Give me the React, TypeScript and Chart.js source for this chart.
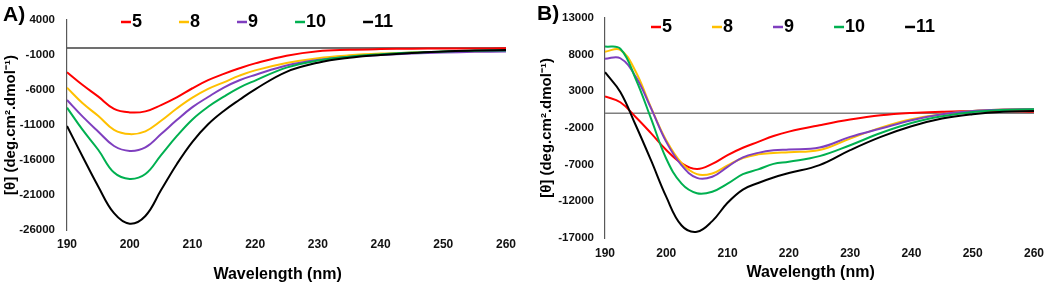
import React, { useEffect, useRef } from "react";
import { Chart, registerables } from "chart.js";

Chart.register(...registerables);

const FONT = "'Liberation Sans', Arial, Helvetica, sans-serif";

// Series
const seriesLabels = ["5", "8", "9", "10", "11"];
const seriesColors = ["#FF0000", "#FFC000", "#7F3FBF", "#00B050", "#000000"];

// Panel A data
const wavelengthA = [190, 192.5, 195, 197.5, 200, 202.5, 205, 207.5, 210, 212.5, 215, 217.5, 220, 225, 230, 235, 240, 245, 250, 255, 260];
const a5 = [-3450, -5290, -6950, -8700, -9200, -9050, -8150, -7050, -5750, -4600, -3700, -2900, -2200, -1100, -450, -250, -150, -100, -80, -60, -50];
const a8 = [-5670, -7900, -9710, -11700, -12300, -11900, -10400, -8650, -7100, -5850, -4900, -3950, -3200, -2150, -1450, -1050, -800, -650, -550, -450, -400];
const a9 = [-7430, -9810, -11950, -14000, -14700, -14200, -12300, -10300, -8450, -7000, -5650, -4600, -3850, -2500, -1700, -1250, -1000, -800, -650, -550, -500];
const a10 = [-8520, -11710, -14570, -17800, -18700, -18000, -15300, -12600, -10200, -8400, -6950, -5650, -4650, -2800, -1800, -1250, -900, -650, -500, -400, -350];
const a11 = [-11140, -15530, -19810, -23600, -25100, -24000, -20300, -16600, -13400, -10900, -9000, -7400, -5900, -3400, -2100, -1400, -1000, -700, -500, -350, -300];

// Panel B data
const wavelengthB = [190, 192.5, 195, 197.5, 200, 202.5, 205, 207.5, 210, 212.5, 215, 217.5, 220, 225, 230, 235, 240, 245, 250, 255, 260];
const b5 = [2300, 1500, -500, -2700, -5000, -6800, -7600, -6900, -5700, -4700, -3900, -3100, -2500, -1630, -860, -280, 40, 200, 300, 300, 200];
const b8 = [8400, 8650, 5700, 800, -3700, -6800, -8300, -8200, -7100, -6100, -5600, -5400, -5300, -5000, -3450, -1950, -800, -130, 320, 500, 550];
const b9 = [7430, 7500, 5000, 700, -3900, -7100, -8800, -8650, -7300, -6000, -5400, -5050, -4940, -4670, -3220, -2080, -950, -130, 320, 500, 550];
const b10 = [9100, 8800, 4700, -700, -6200, -9600, -10900, -10700, -9600, -8300, -7650, -6900, -6600, -5840, -4350, -2680, -1320, -410, 170, 450, 550];
const b11 = [5600, 2900, -1600, -6400, -11400, -15300, -16150, -14700, -12200, -10400, -9500, -8750, -8150, -7070, -5030, -3220, -1770, -720, -130, 200, 300];

// Axis settings
const xMin = 190;
const xMax = 260;
const xStep = 10;
const yRangeA = [-26000, 4000];
const yRangeB = [-17000, 13000];
const yStep = 5000;

const xTitle = "Wavelength (nm)    ";
const yTitle = "[θ] (deg.cm².dmol⁻¹)";

const W = 526;
const H = 286;

const decorPlugin = {
  id: "panelDecor",
  afterDraw(chart: any, _args: any, opts: any) {
    const ctx = chart.ctx as CanvasRenderingContext2D;
    ctx.save();
    ctx.fillStyle = "#000";
    ctx.textAlign = "left";
    ctx.textBaseline = "alphabetic";
    ctx.font = `bold 21px ${FONT}`;
    ctx.fillText(opts.letter, opts.letterX, opts.letterY);
    ctx.font = `bold 18px ${FONT}`;
    let x = opts.legendX;
    chart.data.datasets.forEach((ds: any) => {
      if (!ds.label) return;
      ctx.strokeStyle = ds.borderColor;
      ctx.lineWidth = 2.5;
      ctx.beginPath();
      ctx.moveTo(x, opts.legendBase - 5);
      ctx.lineTo(x + 10, opts.legendBase - 5);
      ctx.stroke();
      ctx.fillText(ds.label, x + 11, opts.legendBase);
      x += 11 + ctx.measureText(ds.label).width + opts.legendGap;
    });
    ctx.restore();
  },
};

type PanelCfg = {
  offsetX: number;
  xs: number[];
  ys: number[][];
  yRange: number[];
  left: number;
  right: number;
  top: number;
  bottom: number;
  yTickPad: number;
  xTickPad: number;
  yTitlePad: number;
  xTitlePad: number;
  zeroColor: string;
  letter: string;
  letterX: number;
  letterY: number;
  legendX: number;
  legendBase: number;
  legendGap: number;
};

function Panel({ cfg }: { cfg: PanelCfg }) {
  const ref = useRef<HTMLCanvasElement>(null);
  useEffect(() => {
    const datasets: any[] = cfg.ys.map((vals, i) => ({
      label: seriesLabels[i],
      data: cfg.xs.map((x, j) => ({ x, y: vals[j] })),
      borderColor: seriesColors[i],
      backgroundColor: seriesColors[i],
      borderWidth: 2,
      pointRadius: 0,
      tension: 0.4,
      fill: false,
      order: seriesLabels.length - i,
    }));
    datasets.push({
      label: "",
      data: [
        { x: xMin, y: 0 },
        { x: xMax, y: 0 },
      ],
      borderColor: cfg.zeroColor,
      borderWidth: 1.5,
      pointRadius: 0,
      fill: false,
      order: 10,
    });
    const chart = new Chart(ref.current!, {
      type: "line",
      data: { datasets },
      plugins: [decorPlugin],
      options: {
        responsive: false,
        animation: false,
        devicePixelRatio: 1,
        layout: {
          padding: { left: 0, top: cfg.top, right: W - cfg.right, bottom: 0 },
        },
        plugins: {
          legend: { display: false },
          tooltip: { enabled: false },
          panelDecor: {
            letter: cfg.letter,
            letterX: cfg.letterX,
            letterY: cfg.letterY,
            legendX: cfg.legendX,
            legendBase: cfg.legendBase,
            legendGap: cfg.legendGap,
          },
        } as any,
        scales: {
          x: {
            type: "linear",
            min: xMin,
            max: xMax,
            afterFit: (s: any) => {
              s.height = H - cfg.bottom;
            },
            ticks: {
              stepSize: xStep,
              padding: cfg.xTickPad,
              color: "#111",
              font: { family: FONT, size: 12, weight: "bold" },
              callback: (v: any) => String(v),
              maxRotation: 0,
            },
            grid: { display: false, drawTicks: false },
            border: { display: false },
            title: {
              display: true,
              text: xTitle,
              color: "#000",
              font: { family: FONT, size: 16, weight: "bold" },
              padding: { top: 0, bottom: cfg.xTitlePad },
            },
          },
          y: {
            type: "linear",
            min: cfg.yRange[0],
            max: cfg.yRange[1],
            afterFit: (s: any) => {
              s.width = cfg.left;
            },
            ticks: {
              stepSize: yStep,
              padding: cfg.yTickPad,
              color: "#111",
              font: { family: FONT, size: 11.5, weight: "bold" },
              callback: (v: any) => String(v),
            },
            grid: { display: true, color: "rgba(0,0,0,0)", drawTicks: false },
            border: { display: true, color: "#595959", width: 1.2 },
            title: {
              display: true,
              text: yTitle,
              color: "#000",
              font: { family: FONT, size: 15, weight: "bold" },
              padding: { top: cfg.yTitlePad, bottom: 0 },
            },
          },
        },
      } as any,
    });
    return () => chart.destroy();
  }, []);
  return (
    <canvas
      ref={ref}
      width={W}
      height={H}
      style={{ position: "absolute", left: cfg.offsetX, top: 0, width: W, height: H }}
    />
  );
}

const panelA: PanelCfg = {
  offsetX: 0,
  xs: wavelengthA,
  ys: [a5, a8, a9, a10, a11],
  yRange: yRangeA,
  left: 67,
  right: 506,
  top: 20,
  bottom: 230,
  yTickPad: 12,
  xTickPad: 7,
  yTitlePad: 2,
  xTitlePad: 1.5,
  zeroColor: "#404040",
  letter: "A)",
  letterX: 3,
  letterY: 21,
  legendX: 121,
  legendBase: 27,
  legendGap: 37,
};

const panelB: PanelCfg = {
  offsetX: 526,
  xs: wavelengthB,
  ys: [b5, b8, b9, b10, b11],
  yRange: yRangeB,
  left: 79,
  right: 515.5,
  top: 17.3,
  bottom: 238,
  yTickPad: 11,
  xTickPad: 8,
  yTitlePad: 12,
  xTitlePad: 3.5,
  zeroColor: "#7F7F7F",
  letter: "B)",
  letterX: 11,
  letterY: 20,
  legendX: 125,
  legendBase: 32,
  legendGap: 40,
};

export default function App() {
  return (
    <div
      style={{
        position: "absolute",
        left: 0,
        top: 0,
        width: 1052,
        height: 286,
        background: "#fff",
        overflow: "hidden",
      }}
    >
      <Panel cfg={panelA} />
      <Panel cfg={panelB} />
    </div>
  );
}
